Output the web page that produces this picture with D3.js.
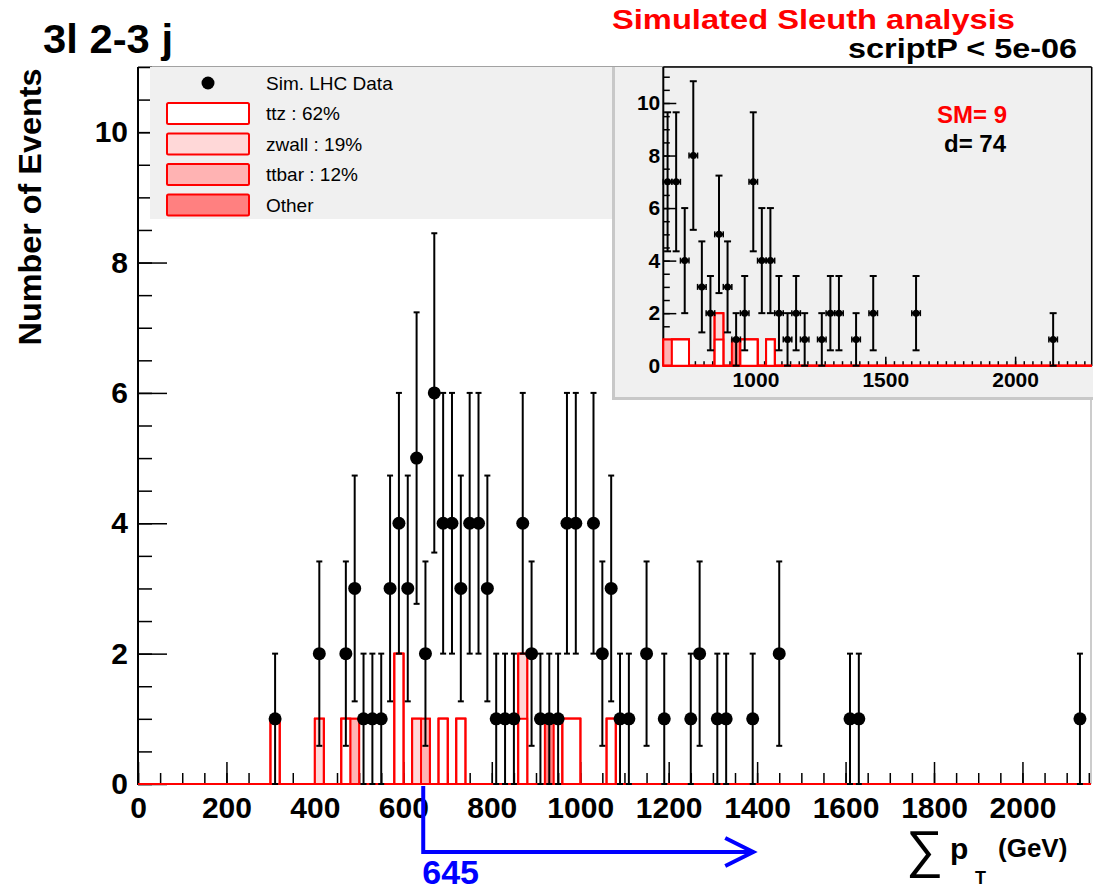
<!DOCTYPE html>
<html>
<head>
<meta charset="utf-8">
<script src="https://cdn.jsdelivr.net/npm/d3@7"></script>
<style>
body { margin: 0; background: #fff; }
svg text { font-family: "Liberation Sans", Arial, sans-serif; }
</style>
</head>
<body>
<svg width="1093" height="890"></svg>
<script>
// main histogram: simulated data (bin centres, 20 GeV bins)
var dataX = [310, 410, 470, 490, 510, 530, 550, 570, 590, 610, 630, 650, 670, 690, 710, 730, 750, 770, 790,
	810, 830, 850, 870, 890, 910, 930, 950, 970, 990, 1030, 1050, 1070, 1090, 1110, 1150, 1190, 1250, 1270,
	1310, 1330, 1390, 1450, 1610, 1630, 2130];
var dataN = [1, 2, 2, 3, 1, 1, 1, 3, 4, 3, 5, 2, 6, 4, 4, 3, 4, 4, 3,
	1, 1, 1, 4, 2, 1, 1, 1, 4, 4, 4, 2, 3, 1, 1, 2, 1, 1, 2,
	1, 1, 1, 2, 1, 1, 1];

// main histogram: SM expectation (bin low edges)
var mcLow   = [300, 400, 460, 480, 580, 620, 640, 680, 720, 860, 920, 960, 980, 1060];
var mcTtz   = [1, 0, 1, 0, 2, 0, 0, 1, 1, 1, 0, 1, 1, 1];
var mcZwall = [0, 1, 0, 0, 0, 1, 0, 0, 0, 1, 0, 0, 0, 0];
var mcTtbar = [0, 0, 0, 1, 0, 0, 1, 0, 0, 0, 0, 0, 0, 0];
var mcOther = [0, 0, 0, 0, 0, 0, 0, 0, 0, 0, 1, 0, 0, 0];

// inset: region above the cut (33 GeV bins starting at 645)
var inX = [661.5, 694.5, 727.5, 760.5, 793.5, 826.5, 859.5, 892.5, 925.5, 958.5, 991.5, 1024.5, 1057.5,
	1090.5, 1123.5, 1156.5, 1189.5, 1255.5, 1288.5, 1321.5, 1387.5, 1453.5, 1618.5, 2146.5];
var inN = [7, 7, 4, 8, 3, 2, 5, 3, 1, 2, 7, 4, 4, 2, 1, 2, 1, 1, 2, 2, 1, 2, 2, 1];
var inLow   = [645, 678, 711, 843, 909, 942, 975, 1041];
var inTtz   = [0, 1, 1, 1, 0, 1, 1, 1];
var inZwall = [0, 0, 0, 1, 0, 0, 0, 0];
var inTtbar = [1, 0, 0, 0, 0, 0, 0, 0];
var inOther = [0, 0, 0, 0, 1, 0, 0, 0];

var legendLabels = ["Sim. LHC Data", "ttz : 62%", "zwall : 19%", "ttbar : 12%", "Other"];
var xTicksMain = [0, 200, 400, 600, 800, 1000, 1200, 1400, 1600, 1800, 2000];
var yTicksMain = [0, 2, 4, 6, 8, 10];
var xTicksInset = [1000, 1500, 2000];
var yTicksInset = [0, 2, 4, 6, 8, 10];
var cutValue = 645;

var fillTtz = "#ffffff", fillZwall = "#ffd8d8", fillTtbar = "#ffb3b3", fillOther = "#ff8080";
var FONT = "'Liberation Sans', Arial, sans-serif";

var svg = d3.select("svg");

var xMain = d3.scaleLinear().domain([0, 2155]).range([138, 1091]);
var yMain = d3.scaleLinear().domain([0, 11]).range([784, 67]);
var xIn = d3.scaleLinear().domain([645, 2295]).range([663.3, 1091.7]);
var yIn = d3.scaleLinear().domain([0, 11.37]).range([365.7, 67]);

// sum up the stacked layers, return list of cumulative arrays (top first)
function stackLayers(ttz, zwall, ttbar, other)
{
	var a = [], b = [], c = [], d = [];
	for (var i = 0; i < ttz.length; i++)
	{
		a[i] = ttz[i];
		b[i] = a[i] + zwall[i];
		c[i] = b[i] + ttbar[i];
		d[i] = c[i] + other[i];
	}
	return [[d, fillOther], [c, fillTtbar], [b, fillZwall], [a, fillTtz]];
}

// ROOT-like step outline over the full axis range
function histPath(lows, heights, start, width, nBins, x, y)
{
	var h = [];
	for (var k = 0; k < nBins; k++) h[k] = 0;
	for (var i = 0; i < lows.length; i++)
		h[Math.round((lows[i] - start) / width)] += heights[i];
	var p = d3.path();
	p.moveTo(x(start), y(0));
	for (var k = 0; k < nBins; k++)
	{
		p.lineTo(x(start + k * width), y(h[k]));
		p.lineTo(x(start + (k + 1) * width), y(h[k]));
	}
	p.lineTo(x(start + nBins * width), y(0));
	p.closePath();
	return p.toString();
}

function drawStack(g, lows, layers, start, width, nBins, x, y)
{
	layers.forEach(function(l)
	{
		g.append("path")
			.attr("d", histPath(lows, l[0], start, width, nBins, x, y))
			.attr("fill", l[1])
			.attr("stroke", "#ff0000")
			.attr("stroke-width", 2);
	});
}

function drawPoints(g, xs, ns, x, y, r, cap, halfBin)
{
	for (var i = 0; i < xs.length; i++)
	{
		var cx = x(xs[i]), n = ns[i], e = Math.sqrt(n);
		var y1 = y(n - e), y2 = y(n + e);
		g.append("line").attr("x1", cx).attr("x2", cx).attr("y1", y1).attr("y2", y2)
			.attr("stroke", "#000").attr("stroke-width", 2);
		[y1, y2].forEach(function(yy)
		{
			g.append("line").attr("x1", cx - cap).attr("x2", cx + cap).attr("y1", yy).attr("y2", yy)
				.attr("stroke", "#000").attr("stroke-width", 2);
		});
		if (halfBin)
		{
			var xa = x(xs[i] - halfBin), xb = x(xs[i] + halfBin), cy = y(n);
			g.append("line").attr("x1", xa).attr("x2", xb).attr("y1", cy).attr("y2", cy)
				.attr("stroke", "#000").attr("stroke-width", 2.5);
			[xa, xb].forEach(function(xx)
			{
				g.append("line").attr("x1", xx).attr("x2", xx).attr("y1", cy - 3).attr("y2", cy + 3)
					.attr("stroke", "#000").attr("stroke-width", 1.5);
			});
		}
		g.append("circle").attr("cx", cx).attr("cy", y(n)).attr("r", r).attr("fill", "#000");
	}
}

function styleAxis(g, size)
{
	g.select(".domain").remove();
	g.selectAll("line").attr("stroke", "#000").attr("stroke-width", 1.5);
	g.selectAll("text").attr("font-family", FONT).attr("font-weight", "bold")
		.attr("font-size", size).attr("fill", "#000");
}

// ---------- main frame ----------
svg.append("defs").append("clipPath").attr("id", "mainClip")
	.append("rect").attr("x", 138).attr("y", 60).attr("width", 953).attr("height", 730);

svg.append("line").attr("x1", 138).attr("x2", 1091).attr("y1", 67).attr("y2", 67)
	.attr("stroke", "#444").attr("stroke-width", 1);
svg.append("line").attr("x1", 1091).attr("x2", 1091).attr("y1", 67).attr("y2", 784)
	.attr("stroke", "#999").attr("stroke-width", 1);

// axes (ticks point inward like ROOT)
var gx = svg.append("g").attr("transform", "translate(0,784)");
gx.call(d3.axisBottom(xMain).tickValues(d3.range(0, 2155, 50)).tickSize(-11).tickFormat(""));
styleAxis(gx, 30);
var gx2 = svg.append("g").attr("transform", "translate(0,784)");
gx2.call(d3.axisBottom(xMain).tickValues(xTicksMain).tickSize(-22).tickPadding(13).tickFormat(d3.format("d")));
styleAxis(gx2, 30);

var gy = svg.append("g").attr("transform", "translate(138,0)");
gy.call(d3.axisLeft(yMain).tickValues(d3.range(0, 11.01, 0.5)).tickSize(-14).tickFormat(""));
styleAxis(gy, 30);
var gy2 = svg.append("g").attr("transform", "translate(138,0)");
gy2.call(d3.axisLeft(yMain).tickValues(yTicksMain).tickSize(-29).tickPadding(10).tickFormat(d3.format("d")));
styleAxis(gy2, 30);

svg.append("line").attr("x1", 138).attr("x2", 138).attr("y1", 67).attr("y2", 785)
	.attr("stroke", "#000").attr("stroke-width", 2);

var gMain = svg.append("g").attr("clip-path", "url(#mainClip)");
drawStack(gMain, mcLow, stackLayers(mcTtz, mcZwall, mcTtbar, mcOther), 0, 20, 108, xMain, yMain);
drawPoints(svg.append("g"), dataX, dataN, xMain, yMain, 6.5, 3, 0);

// ---------- legend ----------
svg.append("rect").attr("x", 150).attr("y", 67).attr("width", 465).attr("height", 152).attr("fill", "#f0f0f0");
var legFills = [null, fillTtz, fillZwall, fillTtbar, fillOther];
legendLabels.forEach(function(lab, i)
{
	var cy = 83 + 30.5 * i;
	if (i == 0)
		svg.append("circle").attr("cx", 208).attr("cy", cy).attr("r", 6.5).attr("fill", "#000");
	else
		svg.append("rect").attr("x", 167).attr("y", cy - 10.5).attr("width", 82).attr("height", 21)
			.attr("rx", 1.5).attr("fill", legFills[i]).attr("stroke", "#ff0000").attr("stroke-width", 2);
	svg.append("text").attr("x", 266).attr("y", cy + 6.7).attr("font-size", 19).attr("fill", "#000").text(lab);
});

// ---------- inset ----------
svg.append("rect").attr("x", 612).attr("y", 67).attr("width", 481).attr("height", 333).attr("fill", "#c8c8c8");
svg.append("rect").attr("x", 615).attr("y", 67).attr("width", 478).attr("height", 330).attr("fill", "#f0f0f0");

var gi = svg.append("g");
var ix = gi.append("g").attr("transform", "translate(0,365.7)");
ix.call(d3.axisBottom(xIn).tickValues(d3.range(-10, 39).map(function(k) { return 1000 + k * 100 / 3; })
	.filter(function(v) { return v > 645 && v < 2295; })).tickSize(-4.5).tickFormat(""));
styleAxis(ix, 21);
var ix2 = gi.append("g").attr("transform", "translate(0,365.7)");
ix2.call(d3.axisBottom(xIn).tickValues(xTicksInset).tickSize(-9).tickPadding(6).tickFormat(d3.format("d")));
styleAxis(ix2, 21);
var iy = gi.append("g").attr("transform", "translate(663.3,0)");
iy.call(d3.axisLeft(yIn).tickValues(d3.range(0, 11.3, 0.5)).tickSize(-6.5).tickFormat(""));
styleAxis(iy, 21);
var iy2 = gi.append("g").attr("transform", "translate(663.3,0)");
iy2.call(d3.axisLeft(yIn).tickValues(yTicksInset).tickSize(-13).tickPadding(3).tickFormat(d3.format("d")));
styleAxis(iy2, 21);

gi.append("line").attr("x1", 663.3).attr("x2", 1091.7).attr("y1", 67).attr("y2", 67).attr("stroke", "#000").attr("stroke-width", 1.5);
gi.append("line").attr("x1", 1091.7).attr("x2", 1091.7).attr("y1", 67).attr("y2", 366).attr("stroke", "#000").attr("stroke-width", 1.5);
gi.append("line").attr("x1", 663.3).attr("x2", 663.3).attr("y1", 67).attr("y2", 366).attr("stroke", "#000").attr("stroke-width", 2);

drawStack(gi.append("g"), inLow, stackLayers(inTtz, inZwall, inTtbar, inOther), 645, 33, 50, xIn, yIn);
drawPoints(gi.append("g"), inX, inN, xIn, yIn, 3.5, 3.5, 16.5);

gi.append("text").attr("x", 972).attr("y", 123).attr("text-anchor", "middle").attr("font-size", 24)
	.attr("font-weight", "bold").attr("fill", "#ff0000").text("SM= 9");
gi.append("text").attr("x", 975).attr("y", 152).attr("text-anchor", "middle").attr("font-size", 24)
	.attr("font-weight", "bold").attr("fill", "#000").text("d= " + d3.sum(inN));

// ---------- titles ----------
svg.append("text").attr("x", 43).attr("y", 53).attr("font-size", 40).attr("font-weight", "bold")
	.attr("textLength", 130).attr("lengthAdjust", "spacingAndGlyphs").text("3l 2-3 j");
svg.append("text").attr("x", 612).attr("y", 29).attr("font-size", 28).attr("font-weight", "bold")
	.attr("fill", "#ff0000").attr("textLength", 403).attr("lengthAdjust", "spacingAndGlyphs")
	.text("Simulated Sleuth analysis");
svg.append("text").attr("x", 848).attr("y", 58).attr("font-size", 28).attr("font-weight", "bold")
	.attr("textLength", 229).attr("lengthAdjust", "spacingAndGlyphs").text("scriptP < 5e-06");
svg.append("text").attr("transform", "translate(41,207) rotate(-90)").attr("text-anchor", "middle")
	.attr("font-size", 32).attr("font-weight", "bold").attr("textLength", 277)
	.attr("lengthAdjust", "spacingAndGlyphs").text("Number of Events");

// x axis title: sum p_T (GeV)
var xt = svg.append("g").attr("font-weight", "bold").attr("fill", "#000");
xt.append("text").attr("x", 906).attr("y", 867).attr("font-size", 52).attr("font-weight", "normal").text("\u2211");
xt.append("text").attr("x", 950).attr("y", 859).attr("font-size", 30).text("p");
xt.append("text").attr("x", 975).attr("y", 884).attr("font-size", 18).text("T");
xt.append("text").attr("x", 998).attr("y", 857).attr("font-size", 26).text("(GeV)");

// ---------- cut arrow ----------
var cx0 = xMain(cutValue);
svg.append("path")
	.attr("d", "M" + cx0 + ",786 L" + cx0 + ",852 L" + (cx0 + 330) + ",852")
	.attr("fill", "none").attr("stroke", "#0000ff").attr("stroke-width", 4);
svg.append("path")
	.attr("d", "M" + (cx0 + 302) + ",838 L" + (cx0 + 330) + ",852 L" + (cx0 + 302) + ",866")
	.attr("fill", "none").attr("stroke", "#0000ff").attr("stroke-width", 4);
svg.append("text").attr("x", cx0 - 1).attr("y", 884).attr("font-size", 34).attr("font-weight", "bold")
	.attr("fill", "#0000ff").text(cutValue);
</script>
</body>
</html>
